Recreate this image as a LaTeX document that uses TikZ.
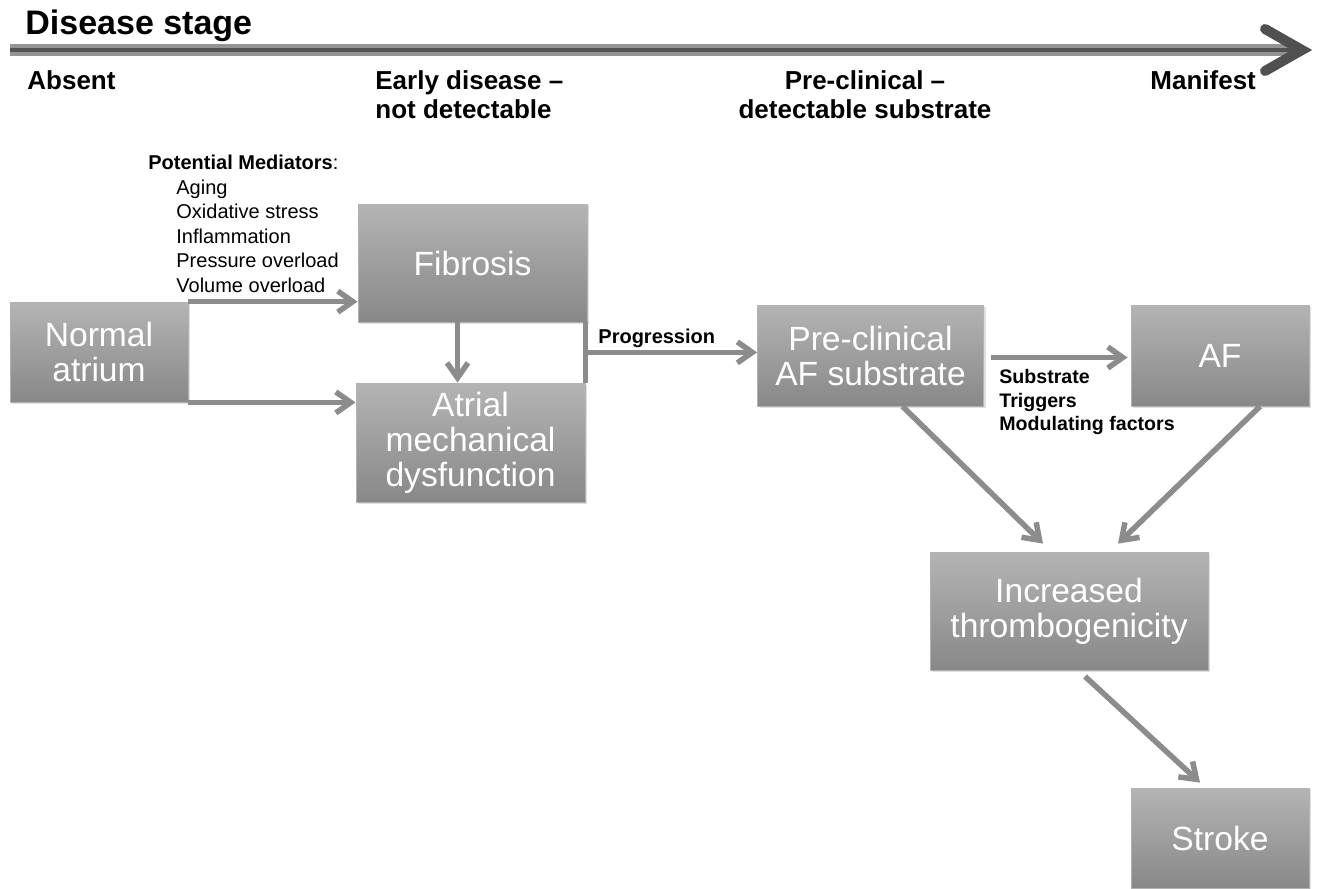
\documentclass[tikz,border=0pt]{standalone}
\usepackage{fontspec}
\setmainfont{Liberation Sans}
\usetikzlibrary{arrows.meta,calc,shadows}
\definecolor{arrgray}{HTML}{8C8C8C}
\definecolor{boxtop}{HTML}{B4B4B4}
\definecolor{boxbot}{HTML}{888888}
\definecolor{tldark}{HTML}{505050}
\begin{document}
\begin{tikzpicture}[x=0.5pt,y=-0.5pt,
  box/.style={draw=black!30, line width=0.4pt, top color=boxtop, bottom color=boxbot,
    text=white, font=\fontsize{16.8}{17.5}\selectfont, align=center, inner sep=0pt,
    drop shadow={shadow xshift=1pt,shadow yshift=-1pt,opacity=0.25}},
  arr/.style={draw=arrgray, line width=2.75pt, -{Straight Barb[length=7.5pt,width=10.5pt]}},
  conn/.style={draw=arrgray, line width=2.75pt},
  hdr/.style={font=\bfseries\fontsize{13}{15}\selectfont, inner sep=0pt},
  med/.style={font=\fontsize{10}{12}\selectfont, inner sep=0pt, anchor=base west},
  lbl/.style={font=\bfseries\fontsize{9.8}{11}\selectfont, inner sep=0pt, anchor=base west}]
\useasboundingbox (0,0) rectangle (1320,888);
\fill[white] (0,0) rectangle (1320,888);

% timeline
\coordinate (tl0) at (10,50);
\coordinate (tl1) at (1302,50);
\coordinate (tlh1) at (1265,29);
\coordinate (tlh2) at (1265,71);
\draw[line width=6pt, color=black!42] (tl0) -- ($(tl1)+(-4,0)$);
\draw[line width=2pt, color=black!68] (tl0) -- ($(tl1)+(-4,0)$);
\draw[tldark, line width=5pt, line cap=round, line join=miter] (tlh1) -- (tl1) -- (tlh2);

% headings
\node[anchor=base west, inner sep=0pt, font=\bfseries\fontsize{17}{20}\selectfont] (title) at (25,35) {Disease stage};
\node[hdr, anchor=base west] (absent) at (27,90) {Absent};
\node[hdr, anchor=base west] (early1) at (375,90) {Early disease –};
\node[hdr, anchor=base west] (early2) at (375,119) {not detectable};
\node[hdr, anchor=base] (pc1) at (865,90) {Pre-clinical –};
\node[hdr, anchor=base] (pc2) at (865,119) {detectable substrate};
\node[hdr, anchor=base west] (manifest) at (1150,90) {Manifest};

% mediators
\node[med] (medh) at (148,169) {\textbf{Potential Mediators}:};
\node[med] (m1) at (176,194) {Aging};
\node[med] (m2) at (176,218) {Oxidative stress};
\node[med] (m3) at (176,243) {Inflammation};
\node[med] (m4) at (176,267) {Pressure overload};
\node[med] (m5) at (176,292) {Volume overload};

% boxes
\node[box, minimum width=89pt, minimum height=50pt] (normal) at (99,352) {Normal\\atrium};
\node[box, minimum width=114.5pt, minimum height=59pt] (fib) at (472.5,263) {Fibrosis};
\node[box, minimum width=114.5pt, minimum height=59.5pt] (atrial) at (470.5,442.5) {Atrial\\mechanical\\dysfunction};
\node[box, minimum width=113pt, minimum height=50.5pt] (pre) at (870.5,355.5) {Pre-clinical\\AF substrate};
\node[box, minimum width=89pt, minimum height=50.5pt] (af) at (1220,355.5) {AF};
\node[box, minimum width=139pt, minimum height=59pt] (thromb) at (1069,611) {Increased\\thrombogenicity};
\node[box, minimum width=89pt, minimum height=50pt] (stroke) at (1220,838) {Stroke};

% labels
\node[lbl, font=\bfseries\fontsize{10}{12}\selectfont] (prog) at (598,343) {Progression};
\node[lbl] (s1) at (999,383) {Substrate};
\node[lbl] (s2) at (999,407) {Triggers};
\node[lbl] (s3) at (999,430) {Modulating factors};

% connectors
\draw[arr] (normal.north east) -- (normal.north east -| fib.west);
\draw[arr] (normal.south east) -- (normal.south east -| atrial.west);
\draw[arr] ($(fib.south)+(-15,0)$) -- ($(fib.south |- atrial.north)+(-15,0)$);
\draw[conn] ($(fib.south east)+(-2,0)$) -- ($(fib.south east |- atrial.north)+(-2,0)$);
\coordinate (pj) at ($(fib.south east)+(-2,30)$);
\draw[arr] (pj) -- (pj -| pre.west);
\draw[arr] ($(pre.east)+(7,2)$) -- ($(af.west)+(-3,2)$);
\draw[arr] ($(pre.south)+(32,0)$) -- ($(thromb.north)+(-26,-8)$);
\draw[arr] ($(af.south)+(40,0)$) -- ($(thromb.north)+(49,-8)$);
\draw[arr] ($(thromb.south)+(16,6)$) -- ($(stroke.north)+(-20,-5)$);
\end{tikzpicture}
\end{document}
